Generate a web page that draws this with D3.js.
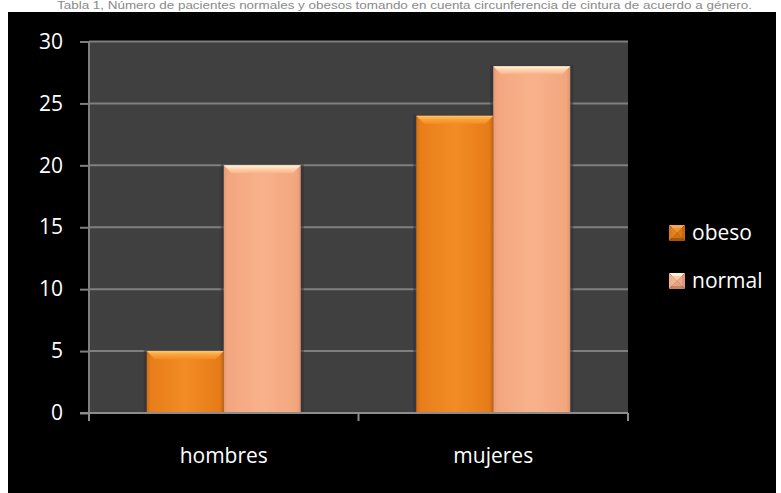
<!DOCTYPE html>
<html>
<head>
<meta charset="utf-8">
<script src="https://cdn.jsdelivr.net/npm/d3@7"></script>
<style>
  html, body { margin: 0; padding: 0; background: #ffffff; }
  svg { display: block; }
</style>
</head>
<body>
<svg id="chart" width="781" height="493"></svg>
<script>
// Patients by sex, split by waist-circumference status
const categories = ["hombres", "mujeres"];
const seriesNames = ["obeso", "normal"];
const obesoValues = [5, 24];
const normalValues = [20, 28];
const yTicks = [0, 5, 10, 15, 20, 25, 30];
const titleText = "Tabla 1, Número de pacientes normales y obesos tomando en cuenta circunferencia de cintura de acuerdo a género.";

const seriesValues = { obeso: obesoValues, normal: normalValues };
const data = categories.map((c, i) => ({
  category: c,
  values: seriesNames.map(s => ({ key: s, value: seriesValues[s][i] }))
}));

const svg = d3.select("#chart");
const W = 781, H = 493;
const plot = { left: 89, right: 628, top: 41.5, bottom: 413 };
const font = "'Open Sans', 'Noto Sans', sans-serif";

// caption above the black panel
svg.append("text")
  .attr("x", 57).attr("y", 9)
  .attr("textLength", 695).attr("lengthAdjust", "spacingAndGlyphs")
  .attr("font-family", "Arial, 'Liberation Sans', sans-serif")
  .attr("font-size", 10)
  .attr("fill", "#8a8a8a")
  .text(titleText);

// black chart background
svg.append("rect")
  .attr("x", 8).attr("y", 12).attr("width", 768).attr("height", H - 12)
  .attr("fill", "#000000");

// plot area
svg.append("rect")
  .attr("x", plot.left).attr("y", plot.top)
  .attr("width", plot.right - plot.left).attr("height", plot.bottom - plot.top)
  .attr("fill", "#404040");

const y = d3.scaleLinear().domain([0, 30]).range([plot.bottom, plot.top]);
const x0 = d3.scaleBand().domain(categories).range([plot.left, plot.right]).padding(0);
// 150% gap width: two bars plus 1.5 bar-widths of space per category
const x1 = d3.scaleBand().domain(seriesNames).range([0, x0.bandwidth()])
  .paddingInner(0).paddingOuter(0.75);

// gradients
const defs = svg.append("defs");
function hGrad(id, stops) {
  const g = defs.append("linearGradient").attr("id", id)
    .attr("x1", "0%").attr("x2", "100%").attr("y1", "0%").attr("y2", "0%");
  stops.forEach(s => g.append("stop").attr("offset", s[0]).attr("stop-color", s[1]));
}
function vGrad(id, stops) {
  const g = defs.append("linearGradient").attr("id", id)
    .attr("x1", "0%").attr("x2", "0%").attr("y1", "0%").attr("y2", "100%");
  stops.forEach(s => g.append("stop").attr("offset", s[0]).attr("stop-color", s[1]));
}
hGrad("body-obeso", [["0%", "#d06c12"], ["5%", "#e87e1a"], ["50%", "#f38c24"], ["95%", "#e67c18"], ["100%", "#c2620e"]]);
hGrad("body-normal", [["0%", "#e29a74"], ["5%", "#f3a67e"], ["50%", "#f8b28b"], ["95%", "#f2a67e"], ["100%", "#dc946e"]]);
vGrad("top-obeso", [["0%", "#ffc868"], ["40%", "#fba63e"], ["100%", "#f38c24"]]);
vGrad("top-normal", [["0%", "#fff6e0"], ["40%", "#ffd6b0"], ["100%", "#f8b28b"]]);

// gridlines
svg.append("g")
  .selectAll("line")
  .data(yTicks.filter(t => t > 0))
  .join("line")
  .attr("x1", plot.left).attr("x2", plot.right)
  .attr("y1", d => y(d)).attr("y2", d => y(d))
  .attr("stroke", "#7f7f7f").attr("stroke-width", 2);

// y axis
const yAxis = svg.append("g")
  .attr("transform", `translate(${plot.left},0)`)
  .call(d3.axisLeft(y).tickValues(yTicks).tickSize(9).tickPadding(17));
yAxis.select(".domain").remove();
yAxis.selectAll(".tick line").attr("stroke", "#7f7f7f").attr("stroke-width", 2);
yAxis.selectAll(".tick text")
  .attr("fill", "#ffffff").attr("font-family", font).attr("font-size", 21);
svg.append("line")
  .attr("x1", plot.left).attr("x2", plot.left)
  .attr("y1", plot.top).attr("y2", plot.bottom + 8)
  .attr("stroke", "#7f7f7f").attr("stroke-width", 2);

// bars
const groups = svg.append("g").selectAll("g")
  .data(data)
  .join("g")
  .attr("transform", d => `translate(${x0(d.category)},0)`);

// soft edge shadow for every bar, drawn before the bars themselves
groups.append("g").selectAll("rect")
  .data(d => d.values)
  .join("rect")
  .attr("x", d => x1(d.key) - 3)
  .attr("y", d => y(d.value) - 1)
  .attr("width", x1.bandwidth() + 6)
  .attr("height", d => y(0) - y(d.value) + 1)
  .attr("fill", "#2b3038").attr("opacity", 0.55);

const bars = groups.selectAll("g.bar")
  .data(d => d.values)
  .join("g").attr("class", "bar");

bars.append("rect")
  .attr("x", d => x1(d.key))
  .attr("y", d => y(d.value))
  .attr("width", x1.bandwidth())
  .attr("height", d => y(0) - y(d.value))
  .attr("fill", d => `url(#body-${d.key})`);

// top bevel
bars.append("path")
  .attr("d", d => {
    const xl = x1(d.key), xr = xl + x1.bandwidth(), yt = y(d.value), b = 8;
    return `M${xl},${yt}L${xr},${yt}L${xr - b},${yt + b}L${xl + b},${yt + b}Z`;
  })
  .attr("fill", d => `url(#top-${d.key})`);

// x axis line and category ticks
svg.append("line")
  .attr("x1", plot.left - 9).attr("x2", plot.right)
  .attr("y1", plot.bottom).attr("y2", plot.bottom)
  .attr("stroke", "#8c8c8c").attr("stroke-width", 2);
const boundaries = categories.map(c => x0(c)).concat([x0(categories[categories.length - 1]) + x0.bandwidth()]);
svg.append("g").selectAll("line")
  .data(boundaries)
  .join("line")
  .attr("x1", d => d).attr("x2", d => d)
  .attr("y1", plot.bottom).attr("y2", plot.bottom + 8)
  .attr("stroke", "#8c8c8c").attr("stroke-width", 2);

svg.append("g").selectAll("text")
  .data(categories)
  .join("text")
  .attr("x", d => x0(d) + x0.bandwidth() / 2)
  .attr("y", 463)
  .attr("text-anchor", "middle")
  .attr("fill", "#ffffff").attr("font-family", font).attr("font-size", 21)
  .text(d => d);

// legend
const swatchColors = {
  obeso: { top: "#f7ab48", left: "#dd7a1c", right: "#c9680f", bottom: "#a9560c", center: "#e88520" },
  normal: { top: "#fff0d8", left: "#f0b08c", right: "#e0987a", bottom: "#c88468", center: "#f6b590" }
};
const legend = svg.append("g").selectAll("g")
  .data(seriesNames)
  .join("g")
  .attr("transform", (d, i) => `translate(669,${225 + i * 48})`);
legend.each(function (d) {
  const g = d3.select(this), s = 16, c = swatchColors[d], m = s / 2;
  g.append("path").attr("d", `M0,0L${s},0L${m},${m}Z`).attr("fill", c.top);
  g.append("path").attr("d", `M0,0L${m},${m}L0,${s}Z`).attr("fill", c.left);
  g.append("path").attr("d", `M${s},0L${s},${s}L${m},${m}Z`).attr("fill", c.right);
  g.append("path").attr("d", `M0,${s}L${m},${m}L${s},${s}Z`).attr("fill", c.bottom);
  g.append("rect").attr("x", 3).attr("y", 3).attr("width", s - 6).attr("height", s - 6)
    .attr("fill", c.center).attr("opacity", 0.6);
});
legend.append("text")
  .attr("x", 23).attr("y", 15)
  .attr("fill", "#ffffff").attr("font-family", font).attr("font-size", 21)
  .text(d => d);
</script>
</body>
</html>
